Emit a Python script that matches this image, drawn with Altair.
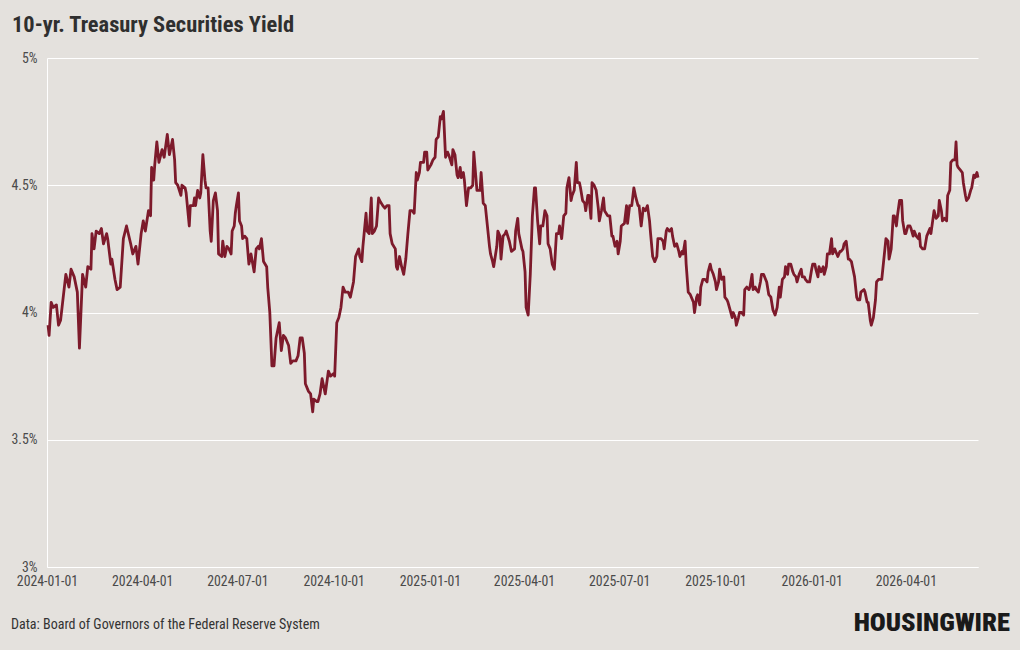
import altair as alt
import pandas as pd

# Daily 10-year Treasury yield, as day offsets from 2024-01-01 and percent values
day_offset = [
    1, 2, 4, 6, 9, 11, 13, 18, 21, 23, 26, 29, 31, 34, 37, 39, 42, 43, 45, 47,
    50, 52, 54, 57, 58, 61, 62, 65, 67, 70, 73, 76, 80, 82, 85, 87, 90, 92, 94, 97,
    99, 100, 102, 103, 105, 107,
    110, 112, 115, 117, 120, 122, 123, 125, 128, 129, 132, 133, 136, 137, 140, 141, 142, 144, 146, 147,
    149, 151, 152, 154, 156, 157, 159, 161, 163, 164, 167, 168, 170, 172, 174, 176, 177, 179, 180, 181,
    183, 184, 186, 187, 189, 191, 193, 195, 198, 200, 202, 203, 205, 207, 210, 211, 213, 215, 217, 219,
    222,
    224, 226, 228, 231, 233, 235, 238, 240, 242, 244, 246, 247, 250, 252, 254, 255, 258, 259, 261, 263,
    266, 267, 269, 271, 274, 275, 277, 279, 281, 283, 285, 288, 290, 293, 295, 298, 299, 301, 302, 305,
    306, 308, 310, 311, 313, 315, 317, 318, 321, 323, 325, 327, 328, 330, 333, 334, 335, 337,
    339, 341, 343, 345, 347, 349, 351, 353, 354, 356, 357, 360, 361, 363, 364, 367, 369, 371, 372, 374,
    376, 377, 379, 380, 381, 383, 384, 387, 388, 390, 392, 393, 395, 396, 398, 399, 401, 403, 405, 407,
    408, 410, 411, 414, 415, 417, 419, 421, 423, 424, 426, 427, 430, 431, 433, 434, 436, 438, 439, 442,
    444, 447, 448, 450, 451,
    454, 455, 457, 458, 460, 462, 464, 466, 467, 469, 471, 472, 474, 476, 478, 479, 481, 483, 485, 487,
    489, 490, 492, 494, 496, 497, 499, 501, 502, 504, 506, 507, 509, 510, 512, 514, 515, 517, 518, 520,
    521, 523, 525, 527, 528, 530, 532, 533, 536, 538, 540, 541, 543, 545, 546, 548, 549, 552, 554, 555,
    557, 559, 561, 563, 565, 566,
    568, 570, 572, 574, 576, 577, 579, 581, 583, 584, 587, 589, 590, 592, 593, 595, 597, 598, 600, 602,
    604, 605, 607, 608, 610, 611, 613, 615, 616, 618, 619, 621, 622, 624, 625, 627, 629, 631, 632, 634,
    635, 637, 639, 640, 642, 643, 645, 647, 648, 650, 651, 653, 655, 656, 658, 659, 661, 662, 664, 666,
    667, 669, 671, 672, 674, 675, 677, 678, 680, 682, 683, 685,
    687, 688, 690, 692, 694, 696, 698, 700, 701, 703, 705, 706, 708, 709, 711, 713, 714, 716, 717, 719,
    721, 722, 724, 725, 727, 729, 731, 732, 734, 735, 737, 738, 740, 742, 743, 745, 746, 748, 750, 751,
    753, 754, 756, 758, 759, 761, 762, 764, 766, 767, 769, 770, 772, 774, 775, 777, 778, 781, 782, 784,
    785, 787, 788, 790, 792, 793, 795, 796, 798,
    801, 802, 804, 805, 807, 809, 810, 812, 813, 815, 817, 818, 820, 821, 823, 825, 826, 828, 829, 831,
    833, 834, 835, 837, 839, 841, 842, 844, 845, 847, 848, 850, 852, 853, 855, 856, 858, 860, 861, 863,
    864, 866, 868, 869, 870, 871, 873, 875, 876, 878, 879, 881, 883, 884, 886, 887, 889, 890,
]

yield_pct = [
    3.95, 3.91, 4.04, 4.02, 4.03, 3.95, 3.97, 4.15, 4.10, 4.17, 4.14, 4.08, 3.86, 4.15, 4.10, 4.18, 4.17, 4.31, 4.25, 4.32,
    4.31, 4.33, 4.27, 4.31, 4.29, 4.19, 4.21, 4.13, 4.09, 4.10, 4.29, 4.34, 4.27, 4.23, 4.26, 4.19, 4.31, 4.36, 4.32, 4.40,
    4.38, 4.57, 4.52, 4.58, 4.67, 4.59,
    4.64, 4.61, 4.70, 4.62, 4.68, 4.60, 4.51, 4.50, 4.46, 4.50, 4.49, 4.47, 4.34, 4.42, 4.42, 4.45, 4.42, 4.48, 4.45, 4.47,
    4.62, 4.52, 4.49, 4.49, 4.32, 4.28, 4.44, 4.47, 4.40, 4.23, 4.22, 4.28, 4.22, 4.26, 4.25, 4.23, 4.32, 4.34, 4.39, 4.42,
    4.47, 4.36, 4.34, 4.29, 4.30, 4.29, 4.19, 4.23, 4.16, 4.25, 4.26, 4.25, 4.29, 4.20, 4.18, 4.10, 4.00, 3.79, 3.79, 3.90,
    3.96,
    3.85, 3.91, 3.90, 3.87, 3.80, 3.81, 3.81, 3.83, 3.90, 3.90, 3.84, 3.72, 3.69, 3.68, 3.61, 3.66, 3.65, 3.65, 3.68, 3.74,
    3.68, 3.71, 3.77, 3.75, 3.76, 3.75, 3.96, 3.98, 4.02, 4.10, 4.08, 4.08, 4.06, 4.12, 4.22, 4.25, 4.22, 4.20, 4.26, 4.39,
    4.32, 4.31, 4.45, 4.31, 4.32, 4.34, 4.45, 4.44, 4.42, 4.41, 4.42, 4.42, 4.31, 4.27, 4.25, 4.18, 4.17, 4.22,
    4.18, 4.15, 4.21, 4.31, 4.40, 4.40, 4.39, 4.55, 4.52, 4.55, 4.59, 4.59, 4.63, 4.63, 4.56, 4.58, 4.60, 4.61, 4.68, 4.69,
    4.77, 4.76, 4.79, 4.70, 4.61, 4.63, 4.62, 4.58, 4.64, 4.62, 4.54, 4.53, 4.57, 4.53, 4.55, 4.52, 4.42, 4.49, 4.49, 4.50,
    4.63, 4.53, 4.48, 4.48, 4.55, 4.43, 4.42, 4.34, 4.26, 4.23, 4.20, 4.18, 4.26, 4.32, 4.30, 4.21, 4.30, 4.31, 4.32, 4.28,
    4.24, 4.25, 4.32, 4.37, 4.31,
    4.25, 4.24, 4.16, 4.02, 3.99, 4.15, 4.38, 4.49, 4.49, 4.36, 4.27, 4.34, 4.34, 4.40, 4.38, 4.27, 4.25, 4.19, 4.17, 4.31,
    4.31, 4.34, 4.29, 4.38, 4.39, 4.49, 4.53, 4.44, 4.46, 4.48, 4.59, 4.51, 4.51, 4.49, 4.44, 4.43, 4.40, 4.46, 4.46, 4.37,
    4.51, 4.50, 4.48, 4.41, 4.36, 4.40, 4.45, 4.40, 4.38, 4.38, 4.30, 4.30, 4.26, 4.28, 4.23, 4.28, 4.34, 4.35, 4.42, 4.35,
    4.42, 4.42, 4.49, 4.45, 4.42, 4.42,
    4.34, 4.41, 4.40, 4.42, 4.36, 4.31, 4.22, 4.20, 4.22, 4.29, 4.29, 4.28, 4.25, 4.32, 4.33, 4.32, 4.33, 4.30, 4.26, 4.27,
    4.24, 4.22, 4.24, 4.23, 4.28, 4.19, 4.08, 4.07, 4.06, 4.04, 4.00, 4.06, 4.07, 4.03, 4.10, 4.13, 4.13, 4.12, 4.16, 4.19,
    4.17, 4.15, 4.12, 4.09, 4.12, 4.17, 4.13, 4.14, 4.06, 4.05, 4.04, 4.01, 3.98, 4.00, 3.98, 3.95, 3.98, 4.00, 4.00, 3.99,
    4.09, 4.10, 4.09, 4.10, 4.15, 4.09, 4.10, 4.09, 4.08, 4.12, 4.15, 4.15,
    4.13, 4.12, 4.07, 4.06, 4.01, 3.99, 4.02, 4.10, 4.06, 4.13, 4.14, 4.18, 4.15, 4.19, 4.19, 4.16, 4.15, 4.14, 4.12, 4.15,
    4.17, 4.14, 4.14, 4.13, 4.12, 4.12, 4.17, 4.19, 4.19, 4.17, 4.14, 4.18, 4.16, 4.18, 4.15, 4.18, 4.23, 4.23, 4.29, 4.23,
    4.25, 4.24, 4.22, 4.24, 4.24, 4.25, 4.27, 4.28, 4.21, 4.21, 4.20, 4.18, 4.14, 4.06, 4.05, 4.05, 4.08, 4.09, 4.08, 4.04,
    4.04, 3.97, 3.95, 3.98, 4.05, 4.12, 4.13, 4.13, 4.13,
    4.25, 4.29, 4.28, 4.21, 4.25, 4.38, 4.38, 4.34, 4.38, 4.44, 4.44, 4.36, 4.31, 4.31, 4.34, 4.34, 4.33, 4.30, 4.32, 4.30,
    4.29, 4.31, 4.26, 4.25, 4.25, 4.30, 4.31, 4.33, 4.31, 4.37, 4.40, 4.37, 4.38, 4.44, 4.40, 4.36, 4.37, 4.36, 4.46, 4.48,
    4.59, 4.60, 4.60, 4.67, 4.58, 4.57, 4.56, 4.55, 4.51, 4.46, 4.44, 4.45, 4.48, 4.49, 4.54, 4.53, 4.55, 4.53,
]

x_tick_dates = [
    "2024-01-01", "2024-04-01", "2024-07-01", "2024-10-01", "2025-01-01",
    "2025-04-01", "2025-07-01", "2025-10-01", "2026-01-01", "2026-04-01",
]
y_ticks = [3, 3.5, 4, 4.5, 5]

title_text = "10-yr. Treasury Securities Yield"
source_text = "Data: Board of Governors of the Federal Reserve System"
brand_text = "HOUSINGWIRE"

BG = "#e4e1dd"
LINE = "#7d1a2b"
FONT = "Liberation Sans Narrow, Roboto Condensed, Roboto, sans-serif"

start = pd.Timestamp("2024-01-01")
dates = start + pd.to_timedelta(day_offset, unit="D")
df = pd.DataFrame({"date": dates, "yield": yield_pct})


def to_dt(ts):
    ts = pd.Timestamp(ts)
    return alt.DateTime(year=ts.year, month=ts.month, date=ts.day)


x_domain = [to_dt(start), to_dt(dates.max())]

line = alt.Chart(df).mark_line(color=LINE, strokeWidth=2.8, strokeJoin="round").encode(
    x=alt.X(
        "date:T",
        scale=alt.Scale(domain=x_domain, nice=False),
        axis=alt.Axis(
            values=[to_dt(d) for d in x_tick_dates],
            format="%Y-%m-%d",
            title=None,
            grid=False,
            domainColor="white",
            domainWidth=1,
            ticks=False,
            labelPadding=7,
            labelFlush=False,
            labelOverlap=False,
            labelFont=FONT,
            labelFontSize=13.8,
            labelColor="#4a4a4a",
        ),
    ),
    y=alt.Y(
        "yield:Q",
        scale=alt.Scale(domain=[3, 5], nice=False, zero=False),
        axis=alt.Axis(
            values=y_ticks,
            labelExpr="datum.value + '%'",
            title=None,
            grid=True,
            gridColor="white",
            gridWidth=1,
            domainColor="white",
            domainWidth=1,
            ticks=False,
            labelPadding=10,
            labelFont=FONT,
            labelFontSize=13.8,
            labelColor="#4a4a4a",
        ),
    ),
)

title_mark = alt.Chart(pd.DataFrame({"t": [title_text]})).mark_text(
    align="left", baseline="alphabetic", font=FONT, fontSize=22.4, fontWeight="bold", color="#2f2f2f"
).encode(text="t:N", x=alt.value(-35), y=alt.value(-26))

source_mark = alt.Chart(pd.DataFrame({"t": [source_text]})).mark_text(
    align="left", baseline="alphabetic", font=FONT, fontSize=14, color="#333333"
).encode(text="t:N", x=alt.value(-36), y=alt.value(571))

brand_mark = alt.Chart(pd.DataFrame({"t": [brand_text]})).mark_text(
    align="right", baseline="alphabetic", font=FONT, fontSize=26.5, fontWeight=900, color="#1a1a1a"
).encode(text="t:N", x=alt.value(963), y=alt.value(573))

chart = alt.layer(line, title_mark, source_mark, brand_mark).properties(
    width=931,
    height=509,
    padding={"left": 47, "top": 58, "right": 42, "bottom": 83},
    autosize=alt.AutoSizeParams(type="none"),
    background=BG,
).configure_view(stroke=None)

chart.save("out.html", embed_options={"renderer": "svg", "actions": False})
